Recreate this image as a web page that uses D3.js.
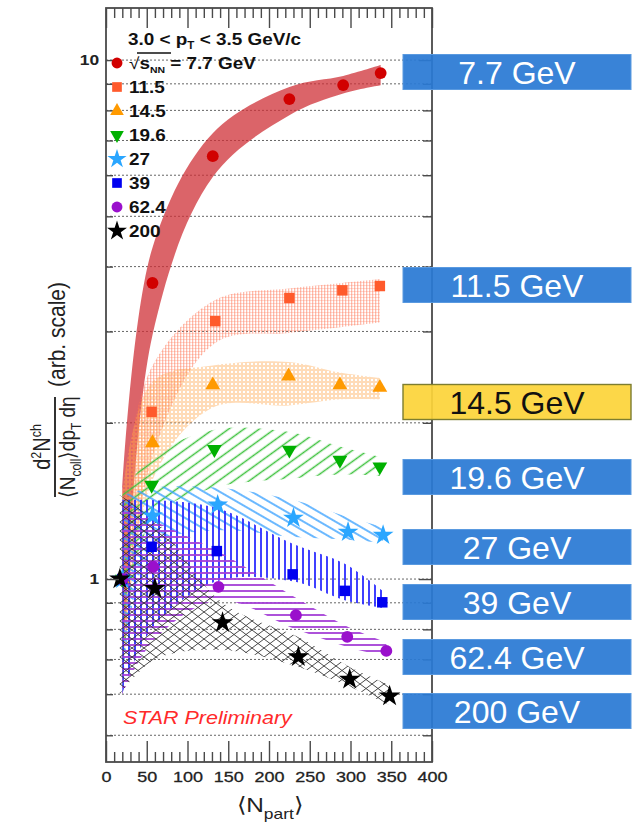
<!DOCTYPE html>
<html>
<head>
<meta charset="utf-8">
<script src="https://cdn.jsdelivr.net/npm/d3@7"></script>
<style>
  html, body { margin: 0; padding: 0; background: #ffffff; }
  svg { display: block; }
  text { font-family: "Liberation Sans", Arial, Helvetica, sans-serif; }
</style>
</head>
<body>
<svg id="chart" width="639" height="826"></svg>
<script>
// ---- data: <N_part> and normalised yields per collision energy ----
const energies = ["7.7", "11.5", "14.5", "19.6", "27", "39", "62.4", "200"];

const npart77 = [20, 57, 131, 225, 291, 337];
const ratio77 = [1.00, 3.72, 6.53, 8.41, 8.95, 9.44];
const sysLo77 = [0.60, 2.95, 5.95, 7.83, 8.62, 8.94];
const sysHi77 = [1.50, 4.35, 7.23, 8.87, 9.32, 9.78];

const npart115 = [20, 56, 134, 225, 290, 336];
const ratio115 = [1.00, 2.10, 3.14, 3.48, 3.60, 3.67];
const sysLo115 = [0.60, 1.70, 2.85, 2.98, 3.06, 3.12];
const sysHi115 = [1.45, 2.56, 3.45, 3.63, 3.72, 3.78];

const npart145 = [20, 57, 131, 224, 287, 336];
const ratio145 = [1.00, 1.83, 2.365, 2.46, 2.365, 2.34];
const sysLo145 = [0.60, 1.55, 2.14, 2.16, 2.22, 2.22];
const sysHi145 = [1.45, 2.40, 2.58, 2.62, 2.50, 2.44];

const npart196 = [20, 56, 133, 225, 287, 336];
const ratio196 = [1.00, 1.517, 1.778, 1.773, 1.695, 1.646];
const sysLo196 = [0.60, 1.30, 1.50, 1.56, 1.59, 1.58];
const sysHi196 = [1.45, 1.72, 1.94, 1.92, 1.80, 1.72];

const npart27 = [20, 57, 137, 230, 297, 340];
const ratio27 = [1.00, 1.323, 1.389, 1.311, 1.232, 1.215];
const sysLo27 = [0.60, 1.15, 1.24, 1.205, 1.19, 1.173];
const sysHi27 = [1.45, 1.50, 1.50, 1.42, 1.316, 1.26];

const npart39 = [20, 56, 136, 229, 293, 339];
const ratio39 = [1.00, 1.154, 1.132, 1.021, 0.949, 0.902];
const sysLo39 = [0.60, 0.80, 0.99, 0.99, 0.91, 0.88];
const sysHi39 = [1.42, 1.42, 1.37, 1.17, 1.07, 0.95];

const npart624 = [20, 58, 138, 233, 296, 344];
const ratio624 = [1.00, 1.056, 0.966, 0.852, 0.774, 0.727];
const sysLo624 = [0.60, 0.76, 0.91, 0.80, 0.74, 0.71];
const sysHi624 = [1.42, 1.30, 1.13, 0.92, 0.81, 0.755];

const npart200 = [17, 60, 143, 236, 299, 348];
const ratio200 = [1.00, 0.959, 0.824, 0.708, 0.641, 0.595];
const sysLo200 = [0.60, 0.70, 0.73, 0.677, 0.62, 0.572];
const sysHi200 = [1.45, 1.30, 0.90, 0.773, 0.677, 0.625];

const xTickLabels = ["0", "50", "100", "150", "200", "250", "300", "350", "400"];
const yTickLabels = ["1", "10"];
const energyTags = ["7.7 GeV", "11.5 GeV", "14.5 GeV", "19.6 GeV", "27 GeV", "39 GeV", "62.4 GeV", "200 GeV"];

// ---- assemble series ----
const seriesData = [
  [npart77, ratio77, sysLo77, sysHi77],
  [npart115, ratio115, sysLo115, sysHi115],
  [npart145, ratio145, sysLo145, sysHi145],
  [npart196, ratio196, sysLo196, sysHi196],
  [npart27, ratio27, sysLo27, sysHi27],
  [npart39, ratio39, sysLo39, sysHi39],
  [npart624, ratio624, sysLo624, sysHi624],
  [npart200, ratio200, sysLo200, sysHi200]
].map(([n, v, lo, hi], i) => ({
  key: energies[i],
  points: n.map((d, j) => ({ n: d, v: v[j], lo: lo[j], hi: hi[j] }))
}));

// ---- look ----
const styles = {
  "7.7":  { color: "#d10000", symbol: d3.symbolCircle,   size: 110, rot: 0,   fill: "rgba(206,46,52,0.74)" },
  "11.5": { color: "#ff5a2c", symbol: d3.symbolSquare,   size: 110, rot: 0,   fill: "url(#pat115)" },
  "14.5": { color: "#ff9a00", symbol: d3.symbolTriangle, size: 95,  rot: 0,   fill: "url(#pat145)" },
  "19.6": { color: "#00b000", symbol: d3.symbolTriangle, size: 95,  rot: 180, fill: "url(#pat196)" },
  "27":   { color: "#2aa6ff", symbol: d3.symbolStar,     size: 135, rot: 0,   fill: "url(#pat27)" },
  "39":   { color: "#0000f0", symbol: d3.symbolSquare,   size: 110, rot: 0,   fill: "url(#pat39)" },
  "62.4": { color: "#9a10cc", symbol: d3.symbolCircle,   size: 110, rot: 0,   fill: "url(#pat624)" },
  "200":  { color: "#000000", symbol: d3.symbolStar,     size: 145, rot: 0,   fill: "url(#pat200)" }
};
const SX = 1.16;           // horizontal text stretch used throughout the figure
const tagCenters = [72, 285, 402, 477, 547, 602, 657, 711];   // label box layout

const W = 639, H = 826;
const x = d3.scaleLinear().domain([0, 400]).range([106, 432]);
const y = d3.scaleLog().domain([0.4441, 12.60]).range([762, 8]);
const [x0, x1] = x.range();
const [yb, yt] = y.range();

const svg = d3.select("#chart");
svg.append("rect").attr("width", W).attr("height", H).attr("fill", "#ffffff");

// ---- fill patterns for the systematic bands ----
const defs = svg.append("defs");
function linePattern(id, spacing, angle, color, width) {
  const p = defs.append("pattern").attr("id", id).attr("patternUnits", "userSpaceOnUse")
    .attr("width", spacing).attr("height", spacing)
    .attr("patternTransform", `rotate(${angle})`);
  p.append("line").attr("x1", 0).attr("y1", spacing / 2).attr("x2", spacing).attr("y2", spacing / 2)
    .attr("stroke", color).attr("stroke-width", width);
  return p;
}
{
  const p = defs.append("pattern").attr("id", "pat115").attr("patternUnits", "userSpaceOnUse")
    .attr("width", 3).attr("height", 3);
  p.append("rect").attr("width", 1.3).attr("height", 3).attr("fill", "#ff6a4a").attr("opacity", 0.45);
  p.append("rect").attr("width", 3).attr("height", 1).attr("fill", "#ff7a5a").attr("opacity", 0.28);
}
{
  const p = defs.append("pattern").attr("id", "pat145").attr("patternUnits", "userSpaceOnUse")
    .attr("width", 4).attr("height", 4);
  p.append("circle").attr("cx", 2).attr("cy", 2).attr("r", 1.3)
    .attr("fill", "none").attr("stroke", "#ffa64a").attr("stroke-width", 0.8).attr("opacity", 0.8);
}
linePattern("pat196", 9, -36, "#3fc23f", 1.5);
linePattern("pat27", 8, 30, "#3aa2ff", 1.5);
linePattern("pat39", 6, 90, "#2a2aff", 1.8);
linePattern("pat624", 6, 0, "#a43ed6", 1.8);
{
  const p = defs.append("pattern").attr("id", "pat200").attr("patternUnits", "userSpaceOnUse")
    .attr("width", 12).attr("height", 9);
  p.append("path").attr("d", "M0,0 L12,9 M0,9 L12,0 M-6,4.5 L0,9 M12,0 L18,4.5")
    .attr("stroke", "#333333").attr("stroke-width", 0.9).attr("fill", "none");
}

// ---- dotted grid on the log axis ----
const yTicksAll = y.ticks();
const isMajor = v => Math.abs(Math.log10(v) - Math.round(Math.log10(v))) < 1e-9;
svg.append("g").selectAll("line").data(yTicksAll).join("line")
  .attr("x1", x0).attr("x2", x1)
  .attr("y1", d => y(d)).attr("y2", d => y(d))
  .attr("stroke", "#666").attr("stroke-width", 1).attr("stroke-dasharray", "2,2");

// ---- bands ----
const area = d3.area()
  .x(d => x(d.n)).y0(d => y(d.lo)).y1(d => y(d.hi))
  .curve(d3.curveCatmullRom.alpha(0.5));
svg.append("g").selectAll("path").data(seriesData).join("path")
  .attr("d", s => area(s.points))
  .attr("fill", s => styles[s.key].fill);

// ---- markers ----
const gMarks = svg.append("g");
seriesData.forEach(s => {
  const st = styles[s.key];
  const sym = d3.symbol().type(st.symbol).size(st.size);
  gMarks.append("g").selectAll("path").data(s.points).join("path")
    .attr("transform", d => `translate(${x(d.n)},${y(d.v)}) rotate(${st.rot})`)
    .attr("d", sym).attr("fill", st.color);
});

// ---- axes ----
const axisColor = "#4a4a4a";
const xMajor = d3.range(0, 401, 50);
const xMinor = d3.range(0, 401, 10).filter(v => v % 50 !== 0);
const yMajor = yTicksAll.filter(isMajor);
const yMinor = yTicksAll.filter(v => !isMajor(v));

function styleAxis(g) {
  g.select(".domain").remove();
  g.selectAll(".tick line").attr("stroke", axisColor).attr("stroke-width", 1.4);
}
// bottom
svg.append("g").attr("transform", `translate(0,${yb})`)
  .call(d3.axisBottom(x).tickValues(xMinor).tickSize(-10).tickFormat(""))
  .call(styleAxis);
const bottomMajor = svg.append("g").attr("transform", `translate(0,${yb})`)
  .call(d3.axisBottom(x).tickValues(xMajor).tickSize(-21).tickPadding(9)
        .tickFormat((d, i) => xTickLabels[i]))
  .call(styleAxis);
bottomMajor.selectAll(".tick text")
  .attr("font-size", 15.5).attr("fill", "#222").attr("font-family", "Liberation Sans, Arial, sans-serif")
  .attr("stroke", "#222").attr("stroke-width", 0.3)
  .attr("transform", `scale(${SX},1)`);
// top
svg.append("g").attr("transform", `translate(0,${yt})`)
  .call(d3.axisTop(x).tickValues(xMinor).tickSize(-10).tickFormat(""))
  .call(styleAxis);
svg.append("g").attr("transform", `translate(0,${yt})`)
  .call(d3.axisTop(x).tickValues(xMajor).tickSize(-20).tickFormat(""))
  .call(styleAxis);
// left
svg.append("g").attr("transform", `translate(${x0},0)`)
  .call(d3.axisLeft(y).tickValues(yMinor).tickSize(-7).tickFormat(""))
  .call(styleAxis);
const leftMajor = svg.append("g").attr("transform", `translate(${x0},0)`)
  .call(d3.axisLeft(y).tickValues(yMajor).tickSize(-13).tickPadding(6)
        .tickFormat((d, i) => yTickLabels[i]))
  .call(styleAxis);
leftMajor.selectAll(".tick text")
  .attr("font-size", 15).attr("font-weight", "bold").attr("fill", "#222")
  .attr("font-family", "Liberation Sans, Arial, sans-serif")
  .attr("transform", `scale(${SX},1)`);
// right
svg.append("g").attr("transform", `translate(${x1},0)`)
  .call(d3.axisRight(y).tickValues(yMinor).tickSize(-9).tickFormat(""))
  .call(styleAxis);
svg.append("g").attr("transform", `translate(${x1},0)`)
  .call(d3.axisRight(y).tickValues(yMajor).tickSize(-13).tickFormat(""))
  .call(styleAxis);
// frame
svg.append("rect").attr("x", x0).attr("y", yt).attr("width", x1 - x0).attr("height", yb - yt)
  .attr("fill", "none").attr("stroke", axisColor).attr("stroke-width", 1.8);

// ---- axis titles ----
const xt = svg.append("text")
  .attr("transform", `translate(${(x0 + x1) / 2 + 1},812) scale(${SX},1)`)
  .attr("text-anchor", "middle").attr("font-size", 21).attr("fill", "#222");
xt.append("tspan").text("⟨N");
xt.append("tspan").attr("font-size", 15).attr("dy", 7).text("part");
xt.append("tspan").attr("dy", -7).text("⟩");

const yTitle = svg.append("g")
  .attr("transform", `translate(55,447) rotate(-90) scale(1,${SX})`)
  .attr("fill", "#222");
const num = yTitle.append("text").attr("x", 0).attr("y", -4.5)
  .attr("text-anchor", "middle").attr("font-size", 20);
num.append("tspan").text("d");
num.append("tspan").attr("font-size", 12.5).attr("dy", -8).text("2");
num.append("tspan").attr("dy", 8).text("N");
num.append("tspan").attr("font-size", 12.5).attr("dy", -8).text("ch");
yTitle.append("line").attr("x1", -50).attr("x2", 50).attr("y1", 0).attr("y2", 0)
  .attr("stroke", "#222").attr("stroke-width", 1.6);
const den = yTitle.append("text").attr("x", 0).attr("y", 17)
  .attr("text-anchor", "middle").attr("font-size", 19);
den.append("tspan").text("⟨N");
den.append("tspan").attr("font-size", 12).attr("dy", 5).text("coll");
den.append("tspan").attr("dy", -5).text("⟩dp");
den.append("tspan").attr("font-size", 12).attr("dy", 5).text("T");
den.append("tspan").attr("dy", -5).text(" dη");
yTitle.append("text").attr("x", 60).attr("y", 8.5)
  .attr("font-size", 21).text("(arb. scale)");

// ---- legend ----
const legendTitle = svg.append("text")
  .attr("transform", `translate(128,45) scale(${SX},1)`)
  .attr("font-size", 16.3).attr("font-weight", "bold").attr("fill", "#111");
legendTitle.append("tspan").text("3.0 < p");
legendTitle.append("tspan").attr("font-size", 10).attr("dy", 4).text("T");
legendTitle.append("tspan").attr("dy", -4).text(" < 3.5 GeV/c");

const legend = svg.append("g");
energies.forEach((e, i) => {
  const cy = 63 + i * 24;
  const st = styles[e];
  legend.append("path")
    .attr("transform", `translate(117,${cy}) rotate(${st.rot})`)
    .attr("d", d3.symbol().type(st.symbol).size(st.size * 0.85))
    .attr("fill", st.color);
  const t = legend.append("text")
    .attr("transform", `translate(129,${cy + 6}) scale(${SX},1)`)
    .attr("font-size", 16.3).attr("font-weight", "bold").attr("fill", "#111");
  if (i === 0) {
    t.append("tspan").attr("font-weight", "normal").text("√");
    t.append("tspan").text("s");
    t.append("tspan").attr("font-size", 9).attr("dy", 4).text("NN");
    t.append("tspan").attr("dy", -4).text(" = " + e + " GeV");
  } else {
    t.text(e);
  }
});
// overline of the square root
legend.append("line").attr("x1", 137).attr("x2", 171).attr("y1", 53).attr("y2", 53)
  .attr("stroke", "#111").attr("stroke-width", 1.3);

// ---- preliminary tag ----
svg.append("text")
  .attr("transform", `translate(123,724) scale(${SX},1)`)
  .attr("font-size", 18.5).attr("font-style", "italic").attr("fill", "#ff2a2a")
  .text("STAR Preliminary");

// ---- energy tags at the right ----
const tags = svg.append("g");
energyTags.forEach((lab, i) => {
  const hl = i === 2;
  const cy = tagCenters[i];
  tags.append("rect")
    .attr("x", 403).attr("y", cy - 17.5).attr("width", 228).attr("height", 35)
    .attr("fill", hl ? "#fcd43a" : "#2a7ad4").attr("fill-opacity", 0.93)
    .attr("stroke", hl ? "#7d7d30" : "#5a9ae0").attr("stroke-width", hl ? 1.4 : 1);
  tags.append("text")
    .attr("x", 517).attr("y", cy + 11.5).attr("text-anchor", "middle")
    .attr("font-family", "DejaVu Sans, sans-serif").attr("font-size", 32)
    .attr("fill", hl ? "#111" : "#ffffff")
    .text(lab);
});
</script>
</body>
</html>
